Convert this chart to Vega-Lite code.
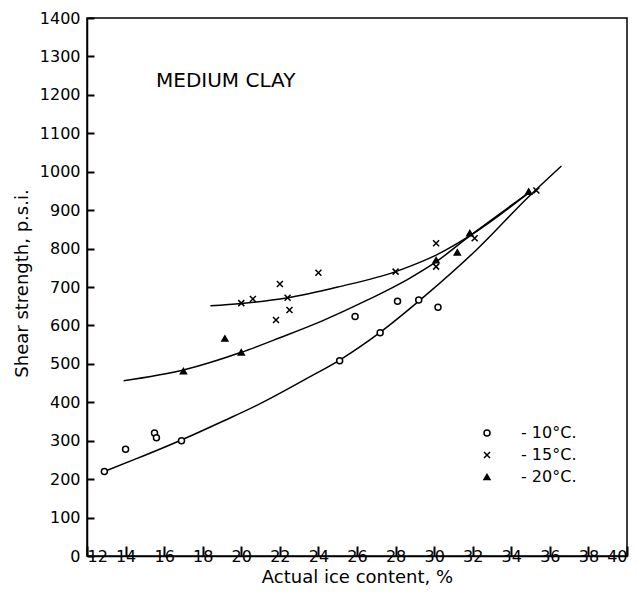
{
  "$schema": "https://vega.github.io/schema/vega-lite/v6.json",
  "width": 540,
  "height": 538,
  "autosize": "none",
  "padding": {"left": 87, "top": 18, "right": 11, "bottom": 59},
  "background": "white",
  "config": {
    "view": {"stroke": "black", "strokeWidth": 1.5},
    "font": "DejaVu Sans",
    "axis": {
      "grid": false,
      "domainColor": "black",
      "labelColor": "black",
      "titleColor": "black",
      "labelFont": "DejaVu Sans",
      "labelFontSize": 16,
      "titleFont": "DejaVu Sans",
      "titleFontSize": 18,
      "titleFontWeight": "normal",
      "domainWidth": 1.5
    }
  },
  "datasets": {
    "points": [
      {"ice": 12.9, "strength": 220, "temp": "- 10°C."},
      {"ice": 14.0, "strength": 278, "temp": "- 10°C."},
      {"ice": 15.5, "strength": 320, "temp": "- 10°C."},
      {"ice": 15.6, "strength": 308, "temp": "- 10°C."},
      {"ice": 16.9, "strength": 300, "temp": "- 10°C."},
      {"ice": 25.1, "strength": 508, "temp": "- 10°C."},
      {"ice": 25.9, "strength": 623, "temp": "- 10°C."},
      {"ice": 27.2, "strength": 581, "temp": "- 10°C."},
      {"ice": 28.1, "strength": 663, "temp": "- 10°C."},
      {"ice": 29.2, "strength": 666, "temp": "- 10°C."},
      {"ice": 30.2, "strength": 647, "temp": "- 10°C."},
      {"ice": 20.0, "strength": 658, "temp": "- 15°C."},
      {"ice": 20.6, "strength": 669, "temp": "- 15°C."},
      {"ice": 22.0, "strength": 708, "temp": "- 15°C."},
      {"ice": 22.4, "strength": 672, "temp": "- 15°C."},
      {"ice": 21.8, "strength": 614, "temp": "- 15°C."},
      {"ice": 22.5, "strength": 640, "temp": "- 15°C."},
      {"ice": 24.0, "strength": 737, "temp": "- 15°C."},
      {"ice": 28.0, "strength": 740, "temp": "- 15°C."},
      {"ice": 30.1, "strength": 814, "temp": "- 15°C."},
      {"ice": 30.1, "strength": 753, "temp": "- 15°C."},
      {"ice": 32.1, "strength": 827, "temp": "- 15°C."},
      {"ice": 35.3, "strength": 951, "temp": "- 15°C."},
      {"ice": 17.0, "strength": 481, "temp": "- 20°C."},
      {"ice": 19.15, "strength": 566, "temp": "- 20°C."},
      {"ice": 20.0, "strength": 530, "temp": "- 20°C."},
      {"ice": 30.1, "strength": 770, "temp": "- 20°C."},
      {"ice": 31.2, "strength": 790, "temp": "- 20°C."},
      {"ice": 31.85, "strength": 840, "temp": "- 20°C."},
      {"ice": 34.9, "strength": 948, "temp": "- 20°C."}
    ],
    "curves": [
      {"ice": 13.0, "strength": 222, "curve": "-10"},
      {"ice": 14.5, "strength": 252, "curve": "-10"},
      {"ice": 16.9, "strength": 302, "curve": "-10"},
      {"ice": 19.1, "strength": 352, "curve": "-10"},
      {"ice": 20.8, "strength": 392, "curve": "-10"},
      {"ice": 23.4, "strength": 462, "curve": "-10"},
      {"ice": 25.1, "strength": 510, "curve": "-10"},
      {"ice": 27.2, "strength": 582, "curve": "-10"},
      {"ice": 29.6, "strength": 680, "curve": "-10"},
      {"ice": 32.2, "strength": 797, "curve": "-10"},
      {"ice": 34.9, "strength": 935, "curve": "-10"},
      {"ice": 36.6, "strength": 1015, "curve": "-10"},
      {"ice": 13.9, "strength": 456, "curve": "-20"},
      {"ice": 17.0, "strength": 484, "curve": "-20"},
      {"ice": 20.0, "strength": 530, "curve": "-20"},
      {"ice": 22.0, "strength": 568, "curve": "-20"},
      {"ice": 24.2, "strength": 612, "curve": "-20"},
      {"ice": 26.5, "strength": 665, "curve": "-20"},
      {"ice": 28.7, "strength": 722, "curve": "-20"},
      {"ice": 30.0, "strength": 762, "curve": "-20"},
      {"ice": 31.9, "strength": 835, "curve": "-20"},
      {"ice": 34.9, "strength": 945, "curve": "-20"},
      {"ice": 18.4, "strength": 651, "curve": "-15"},
      {"ice": 20.0, "strength": 657, "curve": "-15"},
      {"ice": 22.4, "strength": 672, "curve": "-15"},
      {"ice": 25.0, "strength": 700, "curve": "-15"},
      {"ice": 28.0, "strength": 740, "curve": "-15"},
      {"ice": 28.8, "strength": 755, "curve": "-15"},
      {"ice": 30.1, "strength": 783, "curve": "-15"},
      {"ice": 31.9, "strength": 835, "curve": "-15"},
      {"ice": 34.9, "strength": 945, "curve": "-15"}
    ],
    "labels": [
      {"ice": 15.58, "strength": 1221, "text": "MEDIUM CLAY"}
    ]
  },
  "layer": [
    {
      "data": {"name": "curves"},
      "mark": {"type": "line", "color": "black", "strokeWidth": 1.5, "interpolate": "monotone"},
      "encoding": {
        "x": {
          "field": "ice", "type": "quantitative",
          "scale": {"domain": [12, 40], "nice": false, "zero": false},
          "axis": {
            "title": "Actual ice content, %",
            "tickSize": -10,
            "tickColor": "black",
            "tickWidth": 2
          }
        },
        "y": {
          "field": "strength", "type": "quantitative",
          "scale": {"domain": [0, 1400], "nice": false, "zero": false},
          "axis": {
            "title": "Shear strength, p.s.i.",
            "format": "d",
            "tickSize": -7,
            "tickColor": "black",
            "tickWidth": 2,
            "labelPadding": 14,
            "labelFlush": false,
            "titleX": -60,
            "titleY": 265,
            "titleAlign": "center",
            "titleBaseline": "alphabetic"
          }
        },
        "detail": {"field": "curve", "type": "nominal"}
      }
    },
    {
      "data": {"name": "points"},
      "mark": {"type": "point", "filled": true, "stroke": "black", "strokeWidth": 1.5, "size": 36, "opacity": 1},
      "encoding": {
        "x": {"field": "ice", "type": "quantitative"},
        "y": {"field": "strength", "type": "quantitative"},
        "shape": {
          "field": "temp", "type": "nominal",
          "scale": {"domain": ["- 10°C.", "- 15°C.", "- 20°C."], "range": ["circle", "M-1,-1L1,1M-1,1L1,-1", "triangle-up"]},
          "legend": {
            "title": null,
            "orient": "none",
            "legendX": 392,
            "legendY": 407,
            "labelFont": "DejaVu Sans",
            "labelFontSize": 16,
            "labelColor": "black",
            "symbolSize": 36,
            "labelOffset": 26,
            "rowPadding": 6,
            "symbolStrokeColor": "black",
            "symbolStrokeWidth": 1.5,
            "symbolFillColor": "white",
            "symbolOpacity": 1,
            "symbolType": "circle",
            "symbolDash": [],
            "labelFontWeight": "normal"
          }
        },
        "fill": {
          "field": "temp", "type": "nominal",
          "scale": {"domain": ["- 10°C.", "- 15°C.", "- 20°C."], "range": ["white", "white", "black"]},
          "legend": {
            "title": null,
            "orient": "none",
            "legendX": 392,
            "legendY": 407,
            "labelFont": "DejaVu Sans",
            "labelFontSize": 16,
            "labelColor": "black",
            "symbolSize": 36,
            "labelOffset": 26,
            "rowPadding": 6,
            "symbolStrokeColor": "black",
            "symbolStrokeWidth": 1.5,
            "symbolFillColor": "white",
            "symbolOpacity": 1,
            "symbolType": "circle",
            "symbolDash": [],
            "labelFontWeight": "normal",
            "encoding": {
              "symbols": {"update": {"stroke": {"value": "black"}, "strokeWidth": {"value": 1.5}}}
            }
          }
        }
      }
    },
    {
      "data": {"name": "labels"},
      "mark": {"type": "text", "align": "left", "baseline": "alphabetic", "fontSize": 20, "font": "DejaVu Sans", "color": "black"},
      "encoding": {
        "x": {"field": "ice", "type": "quantitative"},
        "y": {"field": "strength", "type": "quantitative"},
        "text": {"field": "text", "type": "nominal"}
      }
    }
  ]
}
